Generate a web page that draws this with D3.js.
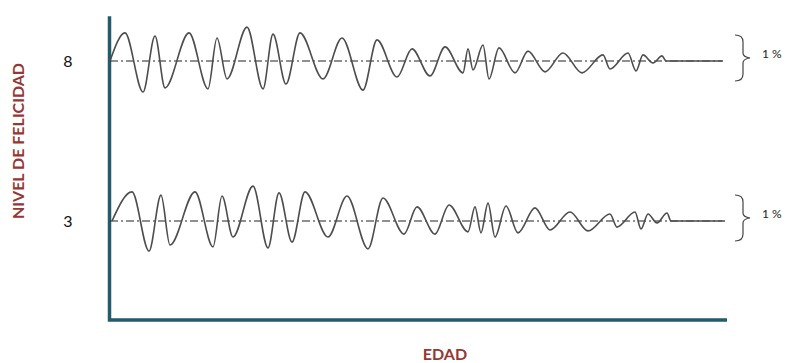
<!DOCTYPE html>
<html>
<head>
<meta charset="utf-8">
<script src="https://cdn.jsdelivr.net/npm/d3@7"></script>
<style>
  body { margin: 0; background: #fff; }
  svg { display: block; }
  .axis-line { stroke: #245b6b; stroke-width: 3.5; fill: none; }
  .base { stroke: #222; stroke-width: 1.2; stroke-dasharray: 8 3 2 3; fill: none; }
  .wave { stroke: #4d4d4d; stroke-width: 1.6; fill: none; }
  .brace { stroke: #444; stroke-width: 1.2; fill: none; }
  .title { fill: #953735; font-family: Lato, "Open Sans", sans-serif; font-weight: bold; }
</style>
</head>
<body>
<svg id="chart" width="786" height="363"></svg>
<script>
// happiness levels shown on the y axis
var levels = [8, 3];
var levelLabels = ["8", "3"];
var braceLabel = "1 %";

// age positions (arbitrary units along the x axis) of each turn of the waves
var edadTop = [2, 17, 35, 47, 57, 81, 100, 109, 119, 139, 155, 165, 178, 192, 215, 234, 255, 269, 289,
    304, 322, 337, 355, 360, 365, 375, 381, 391, 407, 420, 437, 455, 474, 495, 502, 520, 528, 535, 545, 554, 558, 615];
var felicidadTop = [8.00, 8.88, 7.03, 8.78, 7.16, 8.88, 7.13, 8.72, 7.44, 9.06, 7.13, 8.84, 7.28, 8.88, 7.44, 8.72, 7.09, 8.66, 7.50,
    8.38, 7.53, 8.44, 7.63, 8.38, 7.72, 8.50, 7.44, 8.41, 7.63, 8.31, 7.66, 8.25, 7.63, 8.19, 7.75, 8.25, 7.69, 8.19, 7.94, 8.16, 8.00, 8.00];

var edadBottom = [4, 24, 41, 53, 62, 87, 105, 114, 125, 145, 160, 171, 184, 197, 220, 239, 260, 275, 296,
    309, 327, 341, 360, 367, 373, 380, 387, 398, 410, 427, 442, 462, 480, 502, 509, 527, 533, 540, 549, 559, 563, 617];
var felicidadBottom = [3.00, 3.91, 2.06, 3.81, 2.25, 3.91, 2.19, 3.78, 2.50, 4.09, 2.16, 3.88, 2.34, 3.91, 2.50, 3.78, 2.13, 3.72, 2.59,
    3.44, 2.59, 3.50, 2.66, 3.44, 2.63, 3.56, 2.50, 3.47, 2.63, 3.41, 2.72, 3.28, 2.69, 3.22, 2.81, 3.28, 2.75, 3.22, 2.94, 3.25, 3.00, 3.00];

var svg = d3.select("#chart");

var x = d3.scaleLinear().domain([0, 620]).range([108, 728]);
var y = d3.scaleLinear().domain([0, 10]).range([317, -3]);

// axes drawn as two thick lines, no ticks
svg.append("path")
    .attr("class", "axis-line")
    .attr("d", "M" + x(1.5) + "," + y(9.4) + "V" + y(-0.09) + "H" + x(619));

// tick labels
svg.selectAll(".lvl")
    .data(levels)
    .enter()
    .append("text")
    .attr("class", "lvl")
    .attr("x", 68)
    .attr("y", function (d) { return y(d); })
    .attr("dy", "0.35em")
    .attr("text-anchor", "middle")
    .attr("font-family", "Lato, 'Open Sans', sans-serif")
    .attr("font-size", 16)
    .attr("fill", "#111")
    .text(function (d, i) { return levelLabels[i]; });

// dash-dot baselines
svg.selectAll(".base")
    .data(levels)
    .enter()
    .append("line")
    .attr("class", "base")
    .attr("x1", x(2))
    .attr("x2", x(614))
    .attr("y1", function (d) { return y(d); })
    .attr("y2", function (d) { return y(d); });

// the two waves
var line = d3.line()
    .x(function (d) { return x(d[0]); })
    .y(function (d) { return y(d[1]); })
    .curve(d3.curveMonotoneX);

var waves = [d3.zip(edadTop, felicidadTop), d3.zip(edadBottom, felicidadBottom)];

svg.selectAll(".wave")
    .data(waves)
    .enter()
    .append("path")
    .attr("class", "wave")
    .attr("d", line);

// braces on the right with the 1 % note
var bx = x(630);
var braces = svg.selectAll(".brace-g")
    .data(levels)
    .enter()
    .append("g")
    .attr("class", "brace-g")
    .attr("transform", function (d) { return "translate(" + bx + "," + y(d) + ")"; });

braces.append("path")
    .attr("class", "brace")
    .attr("d", "M-3,-26 Q5,-26 5,-19 V-8 Q5,-4 12,-3 Q5,-2 5,2 V13 Q5,20 -3,20");

braces.append("text")
    .attr("x", 24)
    .attr("y", -3)
    .attr("font-family", "Lato, 'Open Sans', sans-serif")
    .attr("font-size", 12)
    .attr("fill", "#222")
    .text(braceLabel);

// axis titles
svg.append("text")
    .attr("class", "title")
    .attr("transform", "translate(24," + 141 + ") rotate(-90)")
    .attr("text-anchor", "middle")
    .attr("font-size", 16)
    .text("NIVEL DE FELICIDAD");

svg.append("text")
    .attr("class", "title")
    .attr("x", 445)
    .attr("y", 360)
    .attr("text-anchor", "middle")
    .attr("font-size", 16)
    .text("EDAD");
</script>
</body>
</html>
